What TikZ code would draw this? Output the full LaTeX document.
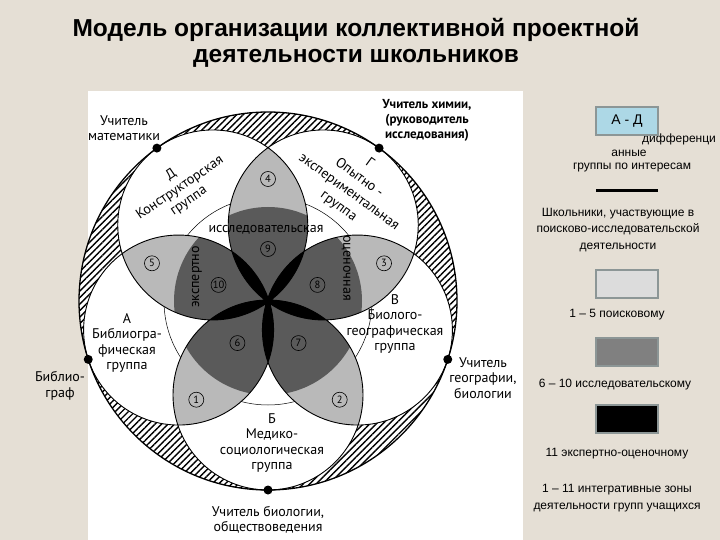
\documentclass[tikz,border=0pt]{standalone}
\usepackage{fontspec}
\setmainfont{Liberation Sans}
\newfontfamily\labelfont{PT Sans}
\usetikzlibrary{patterns.meta, positioning, calc}
\definecolor{bgbeige}{RGB}{229,223,213}
\definecolor{boxblue}{RGB}{173,216,230}
\definecolor{boxgrey}{RGB}{140,150,150}
\definecolor{petallight}{RGB}{185,185,185}
\definecolor{petaldark}{RGB}{90,90,90}
\tikzstyle{titletext} = [font=\bfseries\fontsize{24.5}{24.5}\selectfont, inner sep=0pt]
\tikzstyle{lbl} = [font=\labelfont\fontsize{14}{15.5}\selectfont, align=center, inner sep=0pt]
\tikzstyle{legtext} = [font=\fontsize{12}{16.5}\selectfont, align=center, inner sep=0pt]
\tikzstyle{legbox} = [draw=boxgrey, line width=1.2pt, minimum width=62pt, minimum height=28pt, inner sep=0pt]
\tikzstyle{num} = [circle, draw=black, line width=0.6pt, inner sep=0pt, minimum size=15pt, font=\labelfont\fontsize{10.5}{10.5}\selectfont]
\tikzstyle{teacher} = [circle, fill=black, inner sep=0pt, minimum size=9pt]
\tikzstyle{hatch} = [pattern={Lines[angle=45, distance=4.6pt, line width=1.4pt]}]
\newcommand{\grouprad}{95pt}

\begin{document}
\begin{tikzpicture}[x=1pt, y=-1pt]
            \useasboundingbox (0,0) rectangle (720,540);
            \fill[bgbeige] (0,0) rectangle (720,540);
            \fill[white] (88,91) rectangle (523,540);

            \node (title1) [titletext] at (356,30) {Модель организации коллективной проектной};
            \node (title2) [titletext] at (356,58) {деятельности школьников};

            % centre and the five groups
            \coordinate (O) at (268,301);
            \coordinate (cB) at ($(O)+(90:94)$);
            \coordinate (cV) at ($(O)+(18:94)$);
            \coordinate (cG) at ($(O)+(-54:94)$);
            \coordinate (cD) at ($(O)+(-126:94)$);
            \coordinate (cA) at ($(O)+(162:94)$);

            \fill[white] (O) circle[radius=189pt];
            \fill[hatch] (O) circle[radius=189pt];
            \fill[white] (cA) circle[radius=\grouprad] (cB) circle[radius=\grouprad] (cV) circle[radius=\grouprad] (cG) circle[radius=\grouprad] (cD) circle[radius=\grouprad];
            \draw[line width=.5pt] (O) circle[radius=104pt];

            % zones 1-10
            \begin{scope} \clip (cA) circle[radius=\grouprad]; \fill[petallight] (cB) circle[radius=\grouprad]; \clip (O) circle[radius=94pt]; \fill[petaldark] (cB) circle[radius=\grouprad]; \end{scope}
            \begin{scope} \clip (cB) circle[radius=\grouprad]; \fill[petallight] (cV) circle[radius=\grouprad]; \clip (O) circle[radius=94pt]; \fill[petaldark] (cV) circle[radius=\grouprad]; \end{scope}
            \begin{scope} \clip (cV) circle[radius=\grouprad]; \fill[petallight] (cG) circle[radius=\grouprad]; \clip (O) circle[radius=94pt]; \fill[petaldark] (cG) circle[radius=\grouprad]; \end{scope}
            \begin{scope} \clip (cG) circle[radius=\grouprad]; \fill[petallight] (cD) circle[radius=\grouprad]; \clip (O) circle[radius=94pt]; \fill[petaldark] (cD) circle[radius=\grouprad]; \end{scope}
            \begin{scope} \clip (cD) circle[radius=\grouprad]; \fill[petallight] (cA) circle[radius=\grouprad]; \clip (O) circle[radius=94pt]; \fill[petaldark] (cA) circle[radius=\grouprad]; \end{scope}
            % zone 11
            \begin{scope} \clip (cA) circle[radius=\grouprad]; \fill[black] (cV) circle[radius=\grouprad]; \end{scope}
            \begin{scope} \clip (cB) circle[radius=\grouprad]; \fill[black] (cG) circle[radius=\grouprad]; \end{scope}
            \begin{scope} \clip (cV) circle[radius=\grouprad]; \fill[black] (cD) circle[radius=\grouprad]; \end{scope}
            \begin{scope} \clip (cG) circle[radius=\grouprad]; \fill[black] (cA) circle[radius=\grouprad]; \end{scope}
            \begin{scope} \clip (cD) circle[radius=\grouprad]; \fill[black] (cB) circle[radius=\grouprad]; \end{scope}

            \draw[line width=.9pt] (cA) circle[radius=\grouprad] (cB) circle[radius=\grouprad] (cV) circle[radius=\grouprad] (cG) circle[radius=\grouprad] (cD) circle[radius=\grouprad];
            \draw[line width=1.3pt] (O) circle[radius=189pt];

            \node (tB) [teacher] at ($(O)+(90:189)$) {};
            \node (tV) [teacher] at ($(O)+(18:189)$) {};
            \node (tG) [teacher] at ($(O)+(-54:189)$) {};
            \node (tD) [teacher] at ($(O)+(-126:189)$) {};
            \node (tA) [teacher] at ($(O)+(162:189)$) {};

            \node (n1) [num] at ($(O)+(126:122)$) {1};
            \node (n2) [num] at ($(O)+(54:122)$) {2};
            \node (n3) [num] at ($(O)+(-18:122)$) {3};
            \node (n4) [num] at ($(O)+(-90:122)$) {4};
            \node (n5) [num] at ($(O)+(198:122)$) {5};
            \node (n6) [num] at ($(O)+(126:52)$) {6};
            \node (n7) [num] at ($(O)+(54:52)$) {7};
            \node (n8) [num] at ($(O)+(-18:52)$) {8};
            \node (n9) [num] at ($(O)+(-90:52)$) {9};
            \node (n10) [num] at ($(O)+(198:52)$) {10};

            \node (issl) [lbl] at (266,230) {исследовательская};
            \node (expert) [lbl, rotate=90] at (197,277) {экспертно};
            \node (ocen) [lbl, rotate=-90] at (346,268) {оценочная};

            \node (uchmath) [lbl] at (124,128) {Учитель\\математики};
            \node (uchchem) [lbl, font=\labelfont\bfseries\fontsize{13}{15}\selectfont] at (427,120) {Учитель химии,\\(руководитель\\исследования)};
            \node (uchgeo) [lbl] at (483,378) {Учитель\\географии,\\биологии};
            \node (uchbio) [lbl] at (268,520) {Учитель биологии,\\обществоведения};
            \node (biblio) [lbl] at (60,386) {Библио-\\граф};
            \node (grD) [lbl, rotate=34.5] at (180,188) {Д\\Конструкторская\\группа};
            \node (grG) [lbl, rotate=-36, font=\labelfont\fontsize{14}{17.5}\selectfont] at (354,185) {Г\\Опытно -\\экспериментальная\\группа};
            \node (grA) [lbl] at (127,343) {А\\Библиогра-\\фическая\\группа};
            \node (grB) [lbl] at (272,443) {Б\\Медико-\\социологическая\\группа};
            \node (grV) [lbl] at (395,324) {В\\Биолого-\\географическая\\группа};

            % legend
            \node (legdiff) [legtext, anchor=west] at (642,139) {дифференци};
            \node (legAD) [legbox, fill=boxblue, font=\fontsize{14}{14}\selectfont] at (627,121) {А - Д};
            \node (legann) [legtext] at (629,153) {анные};
            \node (leggr) [legtext] at (632,168) {группы по интересам};
            \coordinate (lineL) at (596,191);
            \coordinate (lineR) at (658,191);
            \draw[line width=3pt] (lineL) -- (lineR);
            \node (legschool) [legtext] at (618,230) {Школьники, участвующие в\\поисково-исследовательской\\деятельности};
            \node (legl) [legbox, fill={rgb,255:red,220;green,220;blue,220}] at (627,284) {};
            \node (legltext) [legtext] at (617,315) {1 – 5 поисковому};
            \node (legd) [legbox, fill={rgb,255:red,128;green,128;blue,128}] at (627,352) {};
            \node (legdtext) [legtext] at (615,385) {6 – 10 исследовательскому};
            \node (legb) [legbox, fill=black] at (627,419) {};
            \node (legbtext) [legtext] at (617,454) {11 экспертно-оценочному};
            \node (legall) [legtext, font=\fontsize{12}{17}\selectfont] at (617,498) {1 – 11 интегративные зоны\\деятельности групп учащихся};
        \end{tikzpicture}
\end{document}
